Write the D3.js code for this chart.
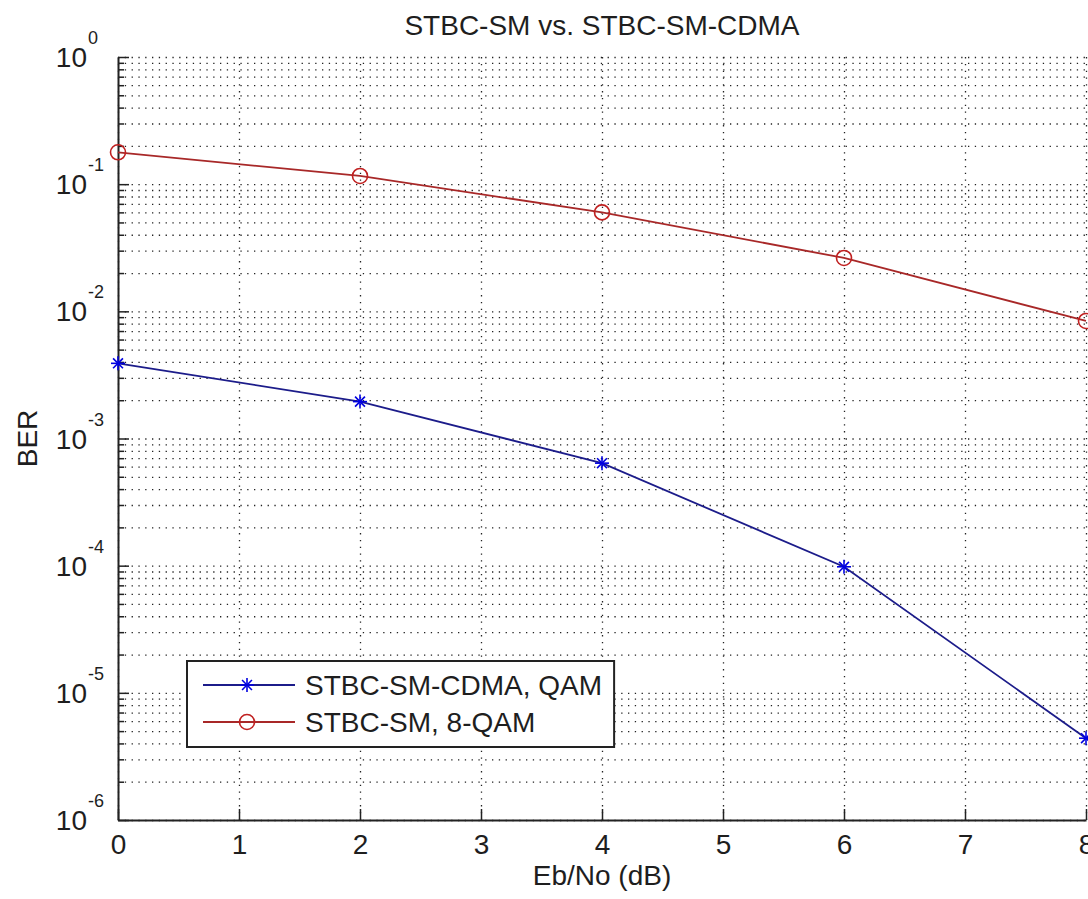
<!DOCTYPE html>
<html>
<head>
<meta charset="utf-8">
<script src="https://cdn.jsdelivr.net/npm/d3@7"></script>
<style>
  body { margin: 0; background: #fff; }
  svg text { font-family: "Liberation Sans", Arial, sans-serif; fill: #1e1e1e; }
</style>
</head>
<body>
<svg id="chart" width="1088" height="899"></svg>
<script>
// Eb/No values (dB)
const ebno = [0, 2, 4, 6, 8];
// BER
const berCdma = [3.9e-3, 1.95e-3, 6.4e-4, 9.8e-5, 4.4e-6];
const berSm = [0.178, 0.116, 0.060, 0.0263, 0.0084];

const xTicks = [0, 1, 2, 3, 4, 5, 6, 7, 8];
const yExponents = [0, -1, -2, -3, -4, -5, -6];
const legendLabels = ["STBC-SM-CDMA, QAM", "STBC-SM, 8-QAM"];

const titleText = "STBC-SM vs. STBC-SM-CDMA";
const xLabel = "Eb/No (dB)";
const yLabel = "BER";

// plot box (window.top is taken, so prefix these)
const boxLeft = 118, boxRight = 1086, boxTop = 57, boxBottom = 820;

const svg = d3.select('svg#chart');

const x = d3.scaleLinear().domain([0, 8]).range([boxLeft, boxRight]);
const y = d3.scaleLog().domain([1e-6, 1]).range([boxBottom, boxTop]);

// minor log positions (2..9 in each decade)
const minorVals = [];
for (let e = -6; e < 0; e++) {
  for (let m = 2; m <= 9; m++) minorVals.push(m * Math.pow(10, e));
}
const majorVals = yExponents.map(e => Math.pow(10, e));

// dotted grid
const grid = svg.append('g').attr('class', 'grid');
grid.append('g')
  .attr('transform', `translate(${boxLeft},0)`)
  .call(d3.axisLeft(y).tickValues(majorVals.concat(minorVals)).tickSize(-(boxRight - boxLeft)).tickFormat(''))
  .call(g => g.select('.domain').remove())
  .selectAll('line')
  .attr('stroke', '#222')
  .attr('stroke-width', 1.3)
  .attr('stroke-dasharray', '1.3,5.5');

grid.append('g')
  .attr('transform', `translate(0,${boxBottom})`)
  .call(d3.axisBottom(x).tickValues(xTicks).tickSize(-(boxBottom - boxTop)).tickFormat(''))
  .call(g => g.select('.domain').remove())
  .selectAll('line')
  .attr('stroke', '#222')
  .attr('stroke-width', 1.3)
  .attr('stroke-dasharray', '1.3,5.5');

// axes with inward ticks
const axes = svg.append('g');
axes.append('g')
  .attr('transform', `translate(0,${boxBottom})`)
  .call(d3.axisBottom(x).tickValues(xTicks).tickSizeInner(-11).tickSizeOuter(0).tickPadding(14).tickFormat(d3.format('d')))
  .call(g => g.select('.domain').attr('stroke', '#222').attr('stroke-width', 2))
  .call(g => g.selectAll('.tick line').attr('stroke', '#222').attr('stroke-width', 1.5))
  .call(g => g.selectAll('.tick text')
    .attr('font-size', 28)
    .attr('fill', '#1e1e1e')
    .attr('font-family', '"Liberation Sans", Arial, sans-serif'));

axes.append('g')
  .attr('transform', `translate(${boxLeft},0)`)
  .call(d3.axisLeft(y).tickValues(majorVals).tickSizeInner(-11).tickSizeOuter(0).tickFormat(''))
  .call(g => g.select('.domain').attr('stroke', '#222').attr('stroke-width', 2))
  .call(g => g.selectAll('.tick line').attr('stroke', '#222').attr('stroke-width', 1.5));

axes.append('g')
  .attr('transform', `translate(${boxLeft},0)`)
  .call(d3.axisLeft(y).tickValues(minorVals).tickSizeInner(-6).tickSizeOuter(0).tickFormat(''))
  .call(g => g.select('.domain').remove())
  .call(g => g.selectAll('.tick line').attr('stroke', '#222').attr('stroke-width', 1.5));

// y tick labels as 10^n
const ylab = svg.append('g');
yExponents.forEach(e => {
  const yy = y(Math.pow(10, e));
  ylab.append('text')
    .attr('x', 87)
    .attr('y', yy + 10)
    .attr('font-size', 28)
    .attr('text-anchor', 'end')
    .text('10');
  ylab.append('text')
    .attr('x', 88)
    .attr('y', yy - 13)
    .attr('font-size', 18)
    .text(e === 0 ? '0' : '-' + Math.abs(e));
});

// series
const seriesList = [
  { name: legendLabels[0], values: berCdma, line: '#1c1c8a', marker: '#0000e0', shape: 'star' },
  { name: legendLabels[1], values: berSm, line: '#a82828', marker: '#c02020', shape: 'circle' }
];

const lineGen = d3.line()
  .x(d => x(d[0]))
  .y(d => y(d[1]));

function drawMarker(g, shape, color, cx, cy) {
  if (shape === 'circle') {
    g.append('circle')
      .attr('cx', cx).attr('cy', cy).attr('r', 7.5)
      .attr('fill', 'none').attr('stroke', color).attr('stroke-width', 1.6);
  } else {
    const r = 7;
    [0, 45, 90, 135].forEach(a => {
      const rad = a * Math.PI / 180;
      g.append('line')
        .attr('x1', cx - r * Math.cos(rad)).attr('y1', cy - r * Math.sin(rad))
        .attr('x2', cx + r * Math.cos(rad)).attr('y2', cy + r * Math.sin(rad))
        .attr('stroke', color).attr('stroke-width', 1.6);
    });
  }
}

const plot = svg.append('g');
seriesList.forEach(s => {
  const pts = ebno.map((v, i) => [v, s.values[i]]);
  plot.append('path')
    .datum(pts)
    .attr('d', lineGen)
    .attr('fill', 'none')
    .attr('stroke', s.line)
    .attr('stroke-width', 1.8);
  pts.forEach(p => drawMarker(plot, s.shape, s.marker, x(p[0]), y(p[1])));
});

// title and axis labels
svg.append('text')
  .attr('x', (boxLeft + boxRight) / 2)
  .attr('y', 35)
  .attr('text-anchor', 'middle')
  .attr('font-size', 28)
  .text(titleText);

svg.append('text')
  .attr('x', (boxLeft + boxRight) / 2)
  .attr('y', 885)
  .attr('text-anchor', 'middle')
  .attr('font-size', 28)
  .text(xLabel);

svg.append('text')
  .attr('transform', `translate(37,${(boxTop + boxBottom) / 2}) rotate(-90)`)
  .attr('text-anchor', 'middle')
  .attr('font-size', 28)
  .text(yLabel);

// legend
const legend = svg.append('g');
const box = legend.append('rect')
  .attr('x', 187).attr('y', 661)
  .attr('height', 86)
  .attr('fill', '#fff')
  .attr('stroke', '#222')
  .attr('stroke-width', 2);

let maxEnd = 0;
seriesList.forEach((s, i) => {
  const ly = 685 + i * 37;
  legend.append('line')
    .attr('x1', 203).attr('x2', 295)
    .attr('y1', ly).attr('y2', ly)
    .attr('stroke', s.line).attr('stroke-width', 1.8);
  drawMarker(legend, s.shape, s.marker, 247, ly);
  const t = legend.append('text')
    .attr('x', 305)
    .attr('y', ly + 10)
    .attr('font-size', 28)
    .text(s.name);
  maxEnd = Math.max(maxEnd, 305 + t.node().getComputedTextLength());
});
box.attr('width', maxEnd + 12 - 187);
</script>
</body>
</html>
